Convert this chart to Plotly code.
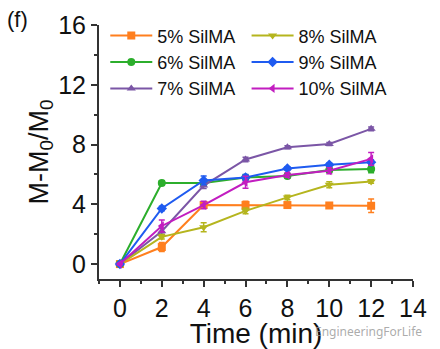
import plotly.graph_objects as go

time_min = [0, 2, 4, 6, 8, 10, 12]
labels = ["5% SilMA", "6% SilMA", "7% SilMA", "8% SilMA", "9% SilMA", "10% SilMA"]
s5 = [0, 1.14, 3.95, 3.95, 3.95, 3.92, 3.9]
s6 = [0, 5.42, 5.42, 5.8, 5.9, 6.3, 6.36]
s7 = [0, 2.2, 5.25, 7.0, 7.82, 8.04, 9.05]
s8 = [0, 1.82, 2.46, 3.56, 4.46, 5.31, 5.53]
s9 = [0, 3.72, 5.6, 5.8, 6.4, 6.65, 6.82]
s10 = [0, 2.55, 3.95, 5.47, 5.96, 6.25, 7.04]
e5 = [0.05, 0.3, 0.2, 0.25, 0.12, 0.1, 0.45]
e6 = [0.05, 0.15, 0.15, 0.15, 0.15, 0.15, 0.25]
e7 = [0.05, 0.2, 0.2, 0.15, 0.1, 0.1, 0.12]
e8 = [0.05, 0.15, 0.3, 0.2, 0.15, 0.2, 0.12]
e9 = [0.05, 0.15, 0.3, 0.2, 0.12, 0.12, 0.15]
e10 = [0.05, 0.4, 0.25, 0.4, 0.15, 0.2, 0.43]

series = [s5, s6, s7, s8, s9, s10]
errs = [e5, e6, e7, e8, e9, e10]
colors = ["#FF7F1E", "#2CAE2C", "#7B56A6", "#B5B51E", "#1F5BF0", "#C21DC0"]
symbols = ["square", "circle", "triangle-up", "triangle-down", "diamond", "triangle-left"]
legend_ids = ["legend", "legend", "legend", "legend2", "legend2", "legend2"]

fig = go.Figure()
for lab, y, e, c, sym, lg in zip(labels, series, errs, colors, symbols, legend_ids):
    fig.add_trace(go.Scatter(
        x=time_min, y=y, name=lab, mode="lines+markers",
        line=dict(color=c, width=2),
        marker=dict(symbol=sym, size=8, color=c),
        error_y=dict(type="data", array=e, color=c, thickness=1.5, width=3),
        legend=lg,
    ))

axis_common = dict(
    showline=True, linecolor="#333333", linewidth=2,
    ticks="outside", ticklen=6, tickwidth=2, tickcolor="#333333",
    showgrid=False, zeroline=False, automargin=False,
    tickfont=dict(family="Liberation Sans", size=25, color="#111111"),
)

leg_common = dict(orientation="v", yanchor="top", xanchor="left",
                  font=dict(size=18, color="#111111", family="Liberation Sans"),
                  bgcolor="rgba(0,0,0,0)", tracegroupgap=0, itemwidth=42)

fig.update_layout(
    width=440, height=349,
    margin=dict(l=99, r=27, t=25, b=70),
    paper_bgcolor="white", plot_bgcolor="white",
    font=dict(family="Liberation Sans", color="#111111"),
    xaxis=dict(range=[-1, 14], tickvals=[0, 2, 4, 6, 8, 10, 12, 14],
               title=dict(text="Time (min)", font=dict(size=28), standoff=0),
               minor=dict(ticks="outside", ticklen=3, tickwidth=1.5, tickcolor="#333333",
                          tickvals=[-1, 1, 3, 5, 7, 9, 11, 13]),
               **axis_common),
    yaxis=dict(range=[-1, 16], tickvals=[0, 4, 8, 12, 16],
               title=dict(text="M-M<sub>0</sub>/M<sub>0</sub>", font=dict(size=27), standoff=2),
               minor=dict(ticks="outside", ticklen=3, tickwidth=1.5, tickcolor="#333333",
                          tickvals=[2, 6, 10, 14]),
               **axis_common),
    legend=dict(x=0.02, y=1.03, **leg_common),
    legend2=dict(x=0.47, y=1.03, **leg_common),
    showlegend=True,
)

fig.add_annotation(text="(f)", xref="paper", yref="paper", x=-0.30, y=1.08,
                   xanchor="left", yanchor="top", showarrow=False,
                   font=dict(size=22, color="#111111"))
fig.add_annotation(text="EngineeringForLife", xref="paper", yref="paper",
                   x=1.035, y=-0.205, xanchor="right", yanchor="middle", showarrow=False,
                   font=dict(size=12, color="rgba(150,150,150,0.8)", family="Noto Sans"))

fig.write_html("out.html")
